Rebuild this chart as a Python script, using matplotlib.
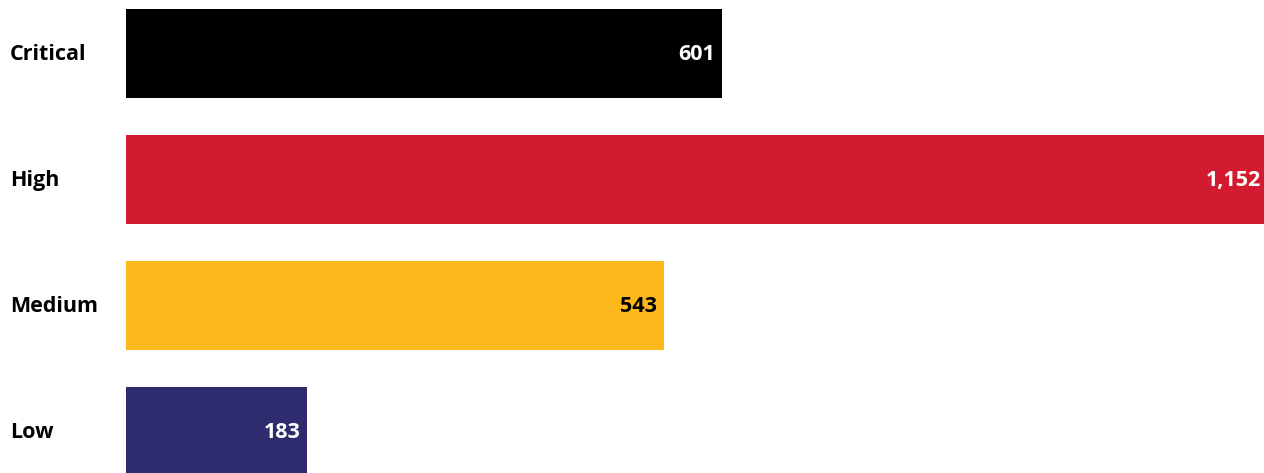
import matplotlib.pyplot as plt

# severity counts
severity = ["Critical", "High", "Medium", "Low"]
counts = [601, 1152, 543, 183]
bar_colors = ["#000000", "#D21A30", "#FDB91C", "#2E2B6F"]
text_colors = ["white", "white", "black", "white"]

plt.rcParams['font.family'] = ['Open Sans', 'DejaVu Sans']

fig = plt.figure(figsize=(12.64, 4.73), dpi=100)
ax = fig.add_axes([126 / 1264, 0, 1 - 126 / 1264, 1])

ypos = list(range(len(severity)))
ax.barh(ypos, counts, height=0.705, color=bar_colors)

ax.set_xlim(0, 1148)
ax.set_ylim(3.33, -0.425)
ax.axis("off")

for y, c, tc in zip(ypos, counts, text_colors):
    ax.annotate(f"{c:,}", (c, y), xytext=(-7, -1), textcoords="offset pixels",
                ha="right", va="center", color=tc, fontsize=15.5, fontweight="bold",
                annotation_clip=False)

# category names to the left of the bars
for y, name in zip(ypos, severity):
    ax.annotate(name, (0, y), xycoords=("figure pixels", "data"), xytext=(10, -1),
                textcoords="offset pixels", ha="left", va="center",
                fontsize=15.5, fontweight="bold", annotation_clip=False)

fig.savefig("out.png", dpi=100)
